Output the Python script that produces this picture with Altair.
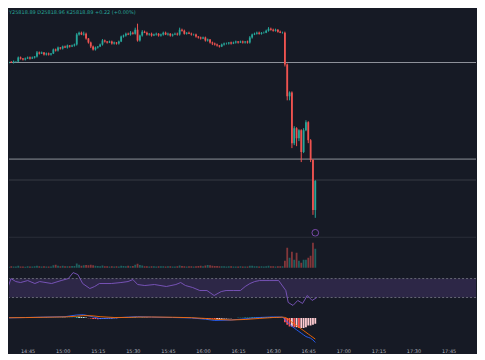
import altair as alt
import pandas as pd

# ---------------- data ----------------
first_open = 25937.5
closes = [
    25938.0, 25938.5, 25938.0, 25939.0, 25939.0, 25943.0, 25942.0, 25941.0, 25942.0, 25943.0,
    25942.0, 25943.0, 25944.0, 25948.0, 25947.0, 25948.0, 25946.0, 25947.0, 25946.0, 25947.0,
    25951.0, 25950.0, 25953.0, 25952.0, 25954.0, 25953.0, 25955.0, 25954.0, 25955.0, 25956.0,
    25966.0, 25968.0, 25966.0, 25967.0, 25962.0, 25958.0, 25954.0, 25951.0, 25953.0, 25954.0,
    25956.0, 25960.0, 25959.0, 25958.0, 25959.0, 25957.0, 25958.0, 25957.0, 25959.0, 25964.0,
    25965.0, 25967.0, 25966.0, 25968.0, 25967.0, 25971.0, 25960.0, 25965.0, 25969.0, 25968.0,
    25966.0, 25967.0, 25965.0, 25966.0, 25967.0, 25965.0, 25966.0, 25968.0, 25966.0, 25967.0,
    25965.0, 25966.0, 25967.0, 25966.0, 25971.0, 25970.0, 25967.0, 25968.0, 25967.0, 25966.0,
    25966.0, 25964.0, 25963.0, 25962.0, 25963.0, 25960.0, 25961.0, 25958.0, 25957.0, 25956.0,
    25955.0, 25954.0, 25956.0, 25957.0, 25957.0, 25958.0, 25957.0, 25958.0, 25959.0, 25958.0,
    25959.0, 25958.0, 25959.0, 25958.0, 25963.0, 25966.0, 25967.0, 25968.0, 25967.0, 25968.0,
    25968.0, 25970.0, 25972.0, 25971.0, 25970.0, 25971.0, 25969.0, 25968.0, 25968.0, 25936.0,
    25904.0, 25908.0, 25857.0, 25872.0, 25862.0, 25870.0, 25848.0, 25870.0, 25878.0, 25860.0,
    25840.0, 25790.0, 25818.89,
]
upper_wick = [
    1, 0.5, 1, 1, 0.5, 1, 1, 0.5, 1, 1,
    1, 1, 0.5, 1.5, 1, 1, 0.5, 1, 1, 0.5,
    1, 1, 1, 0.5, 1, 1, 1, 0.5, 1, 1,
    1.5, 1, 1, 2, 1, 0.5, 1, 1, 1, 0.5,
    1, 1.5, 1, 0.5, 1, 1, 1, 0.5, 1, 1,
    1, 1, 1, 1.5, 1, 2, 6, 1, 1.5, 1,
    1, 0.5, 1, 1, 1, 0.5, 1, 1, 1, 1,
    0.5, 1, 1, 1, 2, 1, 1, 0.5, 1, 1,
    1, 1, 0.5, 1, 1, 1, 1, 0.5, 1, 1,
    1, 0.5, 1, 1, 1, 0.5, 1, 1, 1, 0.5,
    1, 1, 0.5, 1, 1.5, 1, 1, 1, 1, 0.5,
    1, 1, 1.5, 1, 1, 1, 0.5, 1, 1, 1,
    1, 1, 1, 2, 1, 1, 1, 2, 2, 1,
    1, 1, 1,
]
lower_wick = [
    1, 1, 0.5, 1, 1, 0.5, 1, 1, 1, 0.5,
    1, 0.5, 1, 1, 1, 0.5, 1, 1, 1, 1,
    0.5, 1, 1, 1, 1, 0.5, 1, 1, 0.5, 1,
    1, 1, 0.5, 1, 1, 1, 1.5, 1, 1, 1,
    0.5, 1, 1, 1, 0.5, 1, 1, 1, 1, 0.5,
    1, 1, 0.5, 1, 1, 1, 1, 1, 1, 0.5,
    1, 1, 1, 0.5, 1, 1, 1, 1, 0.5, 1,
    1, 1, 0.5, 1, 1, 1, 1, 1, 0.5, 1,
    1, 1, 1, 1, 0.5, 1, 1, 1, 1.5, 1,
    1, 1, 0.5, 1, 1, 1, 1, 0.5, 1, 1,
    0.5, 1, 1, 1, 1, 1, 0.5, 1, 1, 1,
    1, 0.5, 1, 1, 1, 1, 1, 0.5, 1, 2,
    4, 4, 5, 2, 8, 3, 10, 1, 1, 3,
    2, 5, 8,
]
volumes = [
    120, 100, 130, 110, 120, 180, 120, 110, 100, 130,
    110, 120, 130, 200, 150, 120, 130, 110, 120, 110,
    250, 300, 200, 150, 180, 140, 150, 130, 160, 170,
    420, 300, 200, 250, 260, 240, 280, 230, 180, 160,
    150, 220, 140, 130, 120, 140, 110, 130, 120, 200,
    160, 150, 180, 150, 160, 300, 380, 260, 220, 150,
    140, 120, 150, 130, 120, 140, 130, 150, 120, 130,
    140, 120, 110, 130, 220, 160, 130, 120, 140, 130,
    120, 150, 160, 180, 140, 220, 260, 240, 200, 170,
    160, 150, 140, 130, 120, 140, 130, 120, 110, 120,
    130, 120, 110, 120, 200, 180, 150, 140, 120, 130,
    120, 150, 180, 140, 130, 120, 140, 130, 150, 700,
    2000, 1000, 1600, 800, 1500, 700, 500, 800, 800, 1000,
    1200, 2500, 1900,
]
macd_hist = [
    -0.2, -0.1, 0.0, 0.1, 0.1, 0.2, 0.1, 0.1, 0.1, 0.1,
    0.1, 0.1, 0.2, 0.3, 0.2, 0.2, 0.2, 0.1, 0.1, 0.1,
    0.3, 0.3, 0.3, 0.3, 0.4, 0.3, 0.3, 0.3, 0.3, 0.3,
    1.5, 1.4, 1.1, 1.0, 0.4, -0.3, -0.8, -1.2, -1.4, -1.5,
    -1.3, -1.0, -0.9, -0.8, -0.6, -0.6, -0.5, -0.4, -0.2, 0.2,
    0.3, 0.4, 0.4, 0.5, 0.5, 0.7, 0.3, 0.3, 0.4, 0.3,
    0.1, 0.0, -0.1, 0.0, 0.0, -0.1, -0.1, 0.0, -0.1, -0.1,
    -0.2, -0.2, -0.2, -0.2, 0.1, 0.1, 0.0, -0.1, -0.1, -0.2,
    -0.3, -0.4, -0.5, -0.6, -0.6, -0.8, -0.8, -1.0, -1.1, -1.2,
    -1.2, -1.2, -1.0, -0.8, -0.6, -0.4, -0.3, -0.2, 0.0, 0.1,
    0.2, 0.3, 0.4, 0.4, 0.6, 0.8, 0.9, 0.9, 0.9, 0.8,
    0.8, 0.8, 0.8, 0.7, 0.6, 0.5, 0.4, 0.3, 0.1, -5.0,
    -8.0, -10.0, -10.0, -11.0, -11.0, -12.0, -12.0, -12.0, -11.0, -9.0,
    -9.0, -8.0, -7.0,
]
rsi_idx = [0, 2, 4, 6, 8, 11, 14, 16, 21, 25,
           28, 30, 32, 34, 37, 39, 41, 46, 50, 53,
           55, 57, 60, 64, 69, 73, 75, 77, 80, 83,
           86, 89, 92, 94, 97, 100, 102, 104, 106, 108,
           112, 116, 119, 120, 122, 124, 126, 128, 130, 132]
rsi_vals = [38.4, 40.5, 70.0, 63.7, 61.6, 65.8, 59.5, 63.7, 59.5, 65.8,
            70.0, 82.6, 78.4, 59.5, 48.9, 53.2, 59.5, 59.5, 61.6, 63.7,
            67.9, 57.4, 55.3, 57.4, 53.2, 57.4, 61.6, 55.3, 51.1, 44.7,
            44.7, 34.2, 42.6, 44.7, 44.7, 44.7, 53.2, 59.5, 63.7, 65.8,
            65.8, 65.8, 44.7, 19.5, 13.2, 23.7, 17.4, 34.2, 23.7, 30.0]
macd_idx = [0, 8, 16, 25, 30, 33, 37, 40, 46, 52,
            56, 62, 71, 79, 85, 89, 96, 102, 108, 114,
            118, 119, 120, 121, 122, 123, 124, 125, 126, 127,
            128, 129, 130, 131, 132]
macd_vals = [0.0, 0.5, 1.0, 1.5, 3.5, 3.8, 1.2, -0.8, 0.0, 1.0,
             1.5, 1.0, 0.5, 0.0, -1.5, -3.0, -2.5, -1.0, 0.5, 1.2,
             1.0, -2.0, -5.0, -7.0, -10.0, -12.0, -14.0, -16.0, -18.0, -20.0,
             -22.0, -23.0, -24.0, -26.0, -29.0]
signal_vals = [0.2, 0.4, 0.8, 1.2, 2.0, 2.8, 2.4, 1.5, 0.5, 0.6,
               1.0, 1.1, 0.8, 0.3, -0.6, -1.6, -2.4, -1.8, -0.6, 0.5,
               0.9, 0.6, -0.5, -2.5, -5.0, -7.0, -9.0, -11.0, -13.0, -15.0,
               -17.0, -19.0, -21.0, -23.0, -25.0]
level_lines = [25938.0, 25841.0]
dim_level = [25820.0]
legend_text = "Y25818.89 D25818.96 K25818.89 +0.22 (+0.00%)"
tick_times = ["14:45", "15:00", "15:15", "15:30", "15:45", "16:00", "16:15",
              "16:30", "16:45", "17:00", "17:15", "17:30", "17:45"]

# ---------------- styling ----------------
BG = "#161a25"
UP = "#26a69a"
DN = "#ef5350"
W = 469

day = pd.Timestamp("2025-01-06 14:36:00")
n = len(closes)
times = [day + pd.Timedelta(minutes=i) for i in range(n)]
opens = [first_open] + closes[:-1]
highs = [max(o, c) + u for o, c, u in zip(opens, closes, upper_wick)]
lows = [min(o, c) - l for o, c, l in zip(opens, closes, lower_wick)]
dirs = ["up" if c >= o else "down" for o, c in zip(opens, closes)]

hist_col = []
prev = 0.0
for h in macd_hist:
    if h >= 0:
        hist_col.append(UP if h >= prev else "#b2dfdb")
    else:
        hist_col.append("#ff5252" if h < prev else "#ffcdd2")
    prev = h

df = pd.DataFrame({"t": times, "open": opens, "close": closes, "high": highs,
                   "low": lows, "dir": dirs, "vol": volumes,
                   "hist": macd_hist, "hc": hist_col})
rsi_df = pd.DataFrame({"t": [times[i] for i in rsi_idx], "rsi": rsi_vals})
macd_df = pd.DataFrame({"t": [times[i] for i in macd_idx], "macd": macd_vals,
                        "sig": signal_vals})


def dt(h, m, s=0):
    return alt.DateTime(year=2025, month=1, date=6, hours=h, minutes=m, seconds=s)


xdom = [dt(14, 39, 10), dt(17, 54, 35)]
xs = alt.Scale(domain=xdom)
x_noaxis = alt.X("t:T", scale=xs, axis=None)
col = alt.Color("dir:N", scale=alt.Scale(domain=["up", "down"], range=[UP, DN]), legend=None)

# ---------------- price pane ----------------
ps = alt.Scale(domain=[25762, 25992])
base = alt.Chart(df)
lv = alt.Chart(pd.DataFrame({"p": level_lines})).mark_rule(color="#8f929b", strokeWidth=1).encode(
    y=alt.Y("p:Q", scale=ps, axis=None))
dl = alt.Chart(pd.DataFrame({"p": dim_level})).mark_rule(color="#363a45", strokeWidth=1).encode(
    y=alt.Y("p:Q", scale=ps, axis=None))
wicks = base.mark_rule(strokeWidth=1, clip=True).encode(
    x=x_noaxis, y=alt.Y("low:Q", scale=ps, axis=None), y2="high:Q", color=col)
bodies = base.mark_bar(size=1.8, clip=True).encode(
    x=x_noaxis, y=alt.Y("open:Q", scale=ps, axis=None), y2="close:Q", color=col)
icon = alt.Chart(pd.DataFrame({"t": [times[-1]], "p": [25767]})).mark_point(
    shape="circle", filled=False, size=45, color="#a35ee0", strokeWidth=1).encode(
    x=x_noaxis, y=alt.Y("p:Q", scale=ps, axis=None))
legend = alt.Chart(pd.DataFrame({"s": [legend_text]})).mark_text(
    align="left", baseline="top", fontSize=5, color=UP, font="DejaVu Sans").encode(
    x=alt.value(0), y=alt.value(1), text="s:N")
sep1 = alt.Chart(pd.DataFrame({"a": [0]})).mark_rule(color="#2a2e39", strokeWidth=1).encode(
    y=alt.value(229.5))
price = alt.layer(dl, lv, wicks, bodies, icon, legend, sep1).properties(width=W, height=230)

# ---------------- volume pane ----------------
vs = alt.Scale(domain=[-300, 2900])
vol = base.mark_bar(size=1.8, opacity=0.5, clip=True).encode(
    x=x_noaxis, y=alt.Y("vol:Q", scale=vs, axis=None, stack=None), color=col
).properties(width=W, height=32)

# ---------------- RSI pane ----------------
rs = alt.Scale(domain=[6.8, 86.8])
band = alt.Chart(pd.DataFrame({"a": [70], "b": [30]})).mark_rect(color="#7e57c2", opacity=0.22).encode(
    y=alt.Y("a:Q", scale=rs, axis=None), y2="b:Q")
dash = alt.Chart(pd.DataFrame({"a": [70, 30]})).mark_rule(
    color="#787b86", strokeDash=[2, 2], strokeWidth=0.8).encode(y=alt.Y("a:Q", scale=rs, axis=None))
rline = alt.Chart(rsi_df).mark_line(color="#7e57c2", strokeWidth=0.9, clip=True).encode(
    x=x_noaxis, y=alt.Y("rsi:Q", scale=rs, axis=None))
rsi = alt.layer(band, dash, rline).properties(width=W, height=38)

# ---------------- MACD pane ----------------
ms = alt.Scale(domain=[-30, 11.2])
x_axis = alt.X("t:T", scale=xs, axis=alt.Axis(
    values=[dt(int(s[:2]), int(s[3:])) for s in tick_times], format="%H:%M",
    labelColor="#b2b5be", labelFontSize=5, labelFont="DejaVu Sans", domain=False, ticks=False,
    grid=False, labelPadding=5, title=None, labelOverlap=False))
hbars = base.mark_bar(size=1.8, clip=True).encode(
    x=x_axis, y=alt.Y("hist:Q", scale=ms, axis=None, stack=None),
    color=alt.Color("hc:N", scale=None))
mline = alt.Chart(macd_df).mark_line(color="#2962ff", strokeWidth=0.9, clip=True).encode(
    x=x_axis, y=alt.Y("macd:Q", scale=ms, axis=None))
sline = alt.Chart(macd_df).mark_line(color="#ff6d00", strokeWidth=0.9, clip=True).encode(
    x=x_axis, y=alt.Y("sig:Q", scale=ms, axis=None))
macd = alt.layer(hbars, mline, sline).properties(width=W, height=35)

chart = alt.vconcat(price, vol, rsi, macd, spacing=0).properties(
    padding=0, background=BG
).configure_view(stroke=None)

chart.save("out.html", embed_options={"renderer": "svg", "actions": False})
